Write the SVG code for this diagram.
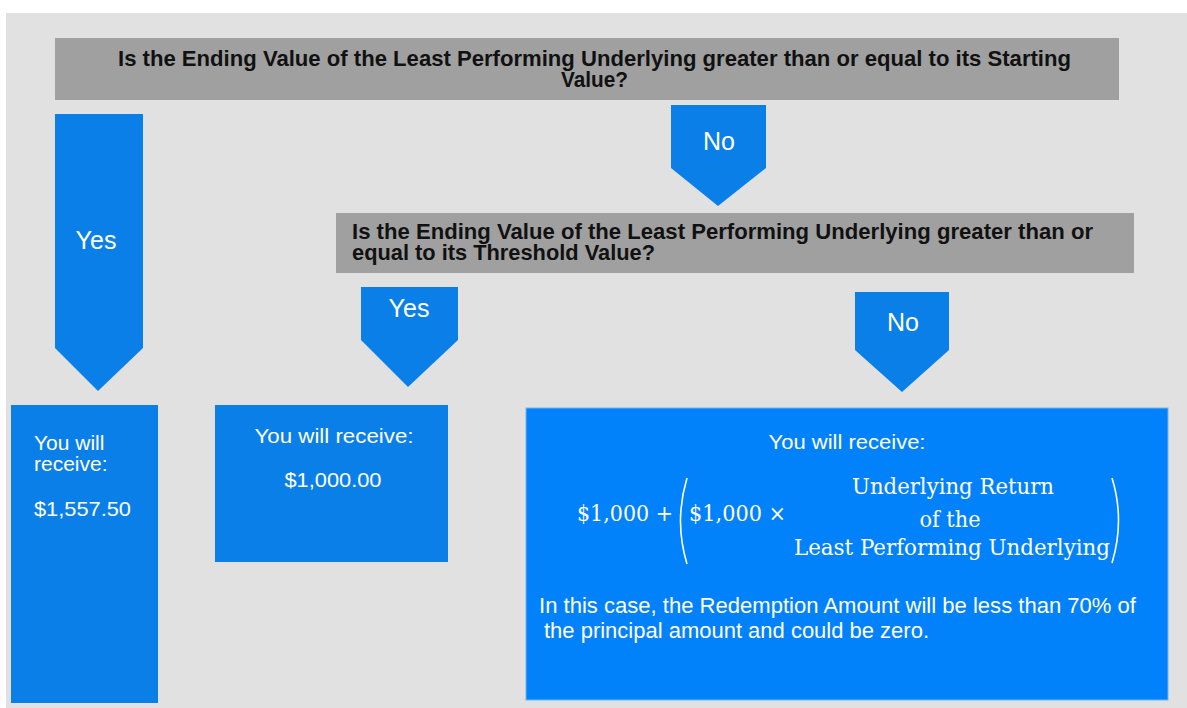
<svg xmlns="http://www.w3.org/2000/svg" width="1187" height="708" viewBox="0 0 1187 708">
  <defs>
    <style>
      .q { fill: #a0a0a0; }
      .arrow { fill: #0a7fe8; }
      .box { fill: #0a7fe8; }
      .bigbox { fill: #0282fa; stroke: #6fb6f0; stroke-width: 1; }
      .qt { font-family: "Liberation Sans", Arial, sans-serif; font-weight: bold; font-size: 22px; fill: #111; }
      .lab { font-family: "Liberation Sans", Arial, sans-serif; font-size: 25px; fill: #ffffff; text-anchor: middle; }
      .wt { font-family: "Liberation Sans", Arial, sans-serif; font-size: 21px; fill: #ffffff; }
      .mt { font-family: "DejaVu Serif", "Liberation Serif", serif; font-size: 22px; fill: #ffffff; }
      .paren { fill: none; stroke: #ffffff; stroke-width: 1.6; }
    </style>
  </defs>
  <rect x="0" y="0" width="1187" height="708" fill="#ffffff"/>
  <rect x="6" y="13" width="1181" height="695" fill="#e1e1e1"/>

  <g id="question1">
    <rect class="q" x="55" y="38" width="1064" height="62"/>
    <text class="qt" x="118" y="66" textLength="953" lengthAdjust="spacingAndGlyphs">Is the Ending Value of the Least Performing Underlying greater than or equal to its Starting</text>
    <text class="qt" x="561" y="87" textLength="67" lengthAdjust="spacingAndGlyphs">Value?</text>
  </g>

  <g id="question2">
    <rect class="q" x="336" y="213" width="798" height="60"/>
    <text class="qt" x="352" y="239" textLength="741" lengthAdjust="spacingAndGlyphs">Is the Ending Value of the Least Performing Underlying greater than or</text>
    <text class="qt" x="352" y="260" textLength="303" lengthAdjust="spacingAndGlyphs">equal to its Threshold Value?</text>
  </g>

  <g id="connectors">
    <g id="yes1">
      <polygon class="arrow" points="55,114 143,114 143,348 98,391 55,348"/>
      <text class="lab" x="96" y="249">Yes</text>
    </g>
    <g id="no1">
      <polygon class="arrow" points="671,105 766,105 766,168 718,206 671,168"/>
      <text class="lab" x="719" y="150">No</text>
    </g>
    <g id="yes2">
      <polygon class="arrow" points="361,287 458,287 458,340 408,387 361,340"/>
      <text class="lab" x="409" y="317">Yes</text>
    </g>
    <g id="no2">
      <polygon class="arrow" points="855,292 949,292 949,350 902,392 855,350"/>
      <text class="lab" x="903" y="331">No</text>
    </g>
  </g>

  <g id="result1">
    <rect class="box" x="11" y="405" width="147" height="298"/>
    <text class="wt" x="34" y="450">You will</text>
    <text class="wt" x="34" y="471">receive:</text>
    <text class="wt" x="34" y="516" textLength="97" lengthAdjust="spacingAndGlyphs">$1,557.50</text>
  </g>

  <g id="result2">
    <rect class="box" x="215" y="405" width="233" height="157"/>
    <text class="wt" x="334" y="443" text-anchor="middle" textLength="159" lengthAdjust="spacingAndGlyphs">You will receive:</text>
    <text class="wt" x="333" y="487" text-anchor="middle" textLength="97" lengthAdjust="spacingAndGlyphs">$1,000.00</text>
  </g>

  <g id="result3">
    <rect class="bigbox" x="526" y="408" width="642" height="292"/>
    <text class="wt" x="847" y="449" text-anchor="middle" textLength="157" lengthAdjust="spacingAndGlyphs">You will receive:</text>
    <text class="mt" x="577" y="521" textLength="96" lengthAdjust="spacingAndGlyphs">$1,000 +</text>
    <path class="paren" d="M687,478 Q674,521 687,564"/>
    <text class="mt" x="689" y="521" textLength="97" lengthAdjust="spacingAndGlyphs">$1,000 ×</text>
    <text class="mt" x="953" y="494" text-anchor="middle" textLength="202" lengthAdjust="spacingAndGlyphs">Underlying Return</text>
    <text class="mt" x="950" y="527" text-anchor="middle" textLength="61" lengthAdjust="spacingAndGlyphs">of the</text>
    <text class="mt" x="952" y="555" text-anchor="middle" textLength="316" lengthAdjust="spacingAndGlyphs">Least Performing Underlying</text>
    <path class="paren" d="M1112,478 Q1125,520 1112,563"/>
    <text class="wt" x="539" y="613" textLength="597" lengthAdjust="spacingAndGlyphs" style="font-size:22px">In this case, the Redemption Amount will be less than 70% of</text>
    <text class="wt" x="544" y="638" textLength="385" lengthAdjust="spacingAndGlyphs" style="font-size:22px">the principal amount and could be zero.</text>
  </g>
</svg>
